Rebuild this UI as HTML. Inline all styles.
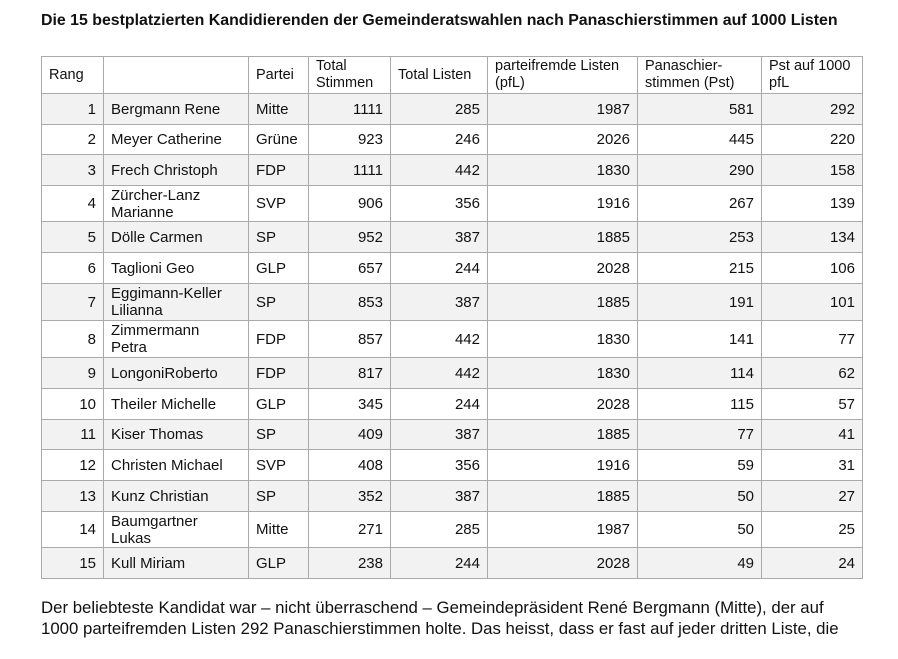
<!DOCTYPE html>
<html><head><meta charset="utf-8"><style>
body{margin:0;width:898px;height:659px;background:#fff;font-family:"Liberation Sans",Arial,sans-serif;color:#111;position:relative;overflow:hidden}
h1{position:absolute;left:41px;top:12px;margin:0;font-size:15.9px;font-weight:bold;white-space:nowrap}
table{position:absolute;left:41px;top:56px;border-collapse:collapse;table-layout:fixed;font-size:15px}
td{border:1px solid #aaa;padding:0 7px;line-height:17px;box-sizing:border-box;overflow:hidden;white-space:nowrap}
tr.o td{background:#f2f2f2}
td.r{text-align:right}
tr.h td{font-size:14.5px}
p{position:absolute;left:41px;top:597px;margin:0;font-size:16.8px;line-height:21px;width:860px;white-space:nowrap}
</style></head><body>
<h1>Die 15 bestplatzierten Kandidierenden der Gemeinderatswahlen nach Panaschierstimmen auf 1000 Listen</h1>
<table>
<colgroup><col style="width:62px"><col style="width:145px"><col style="width:60px"><col style="width:82px"><col style="width:97px"><col style="width:150px"><col style="width:124px"><col style="width:101px"></colgroup>
<tr class="h" style="height:37px"><td>Rang</td><td></td><td>Partei</td><td>Total<br>Stimmen</td><td>Total Listen</td><td>parteifremde Listen<br>(pfL)</td><td>Panaschier-<br>stimmen (Pst)</td><td>Pst auf 1000<br>pfL</td></tr>
<tr class="o" style="height:31px"><td class="r">1</td><td>Bergmann Rene</td><td>Mitte</td><td class="r">1111</td><td class="r">285</td><td class="r">1987</td><td class="r">581</td><td class="r">292</td></tr>
<tr style="height:30px"><td class="r">2</td><td>Meyer Catherine</td><td>Grüne</td><td class="r">923</td><td class="r">246</td><td class="r">2026</td><td class="r">445</td><td class="r">220</td></tr>
<tr class="o" style="height:31px"><td class="r">3</td><td>Frech Christoph</td><td>FDP</td><td class="r">1111</td><td class="r">442</td><td class="r">1830</td><td class="r">290</td><td class="r">158</td></tr>
<tr style="height:36px"><td class="r">4</td><td>Zürcher-Lanz<br>Marianne</td><td>SVP</td><td class="r">906</td><td class="r">356</td><td class="r">1916</td><td class="r">267</td><td class="r">139</td></tr>
<tr class="o" style="height:31px"><td class="r">5</td><td>Dölle Carmen</td><td>SP</td><td class="r">952</td><td class="r">387</td><td class="r">1885</td><td class="r">253</td><td class="r">134</td></tr>
<tr style="height:31px"><td class="r">6</td><td>Taglioni Geo</td><td>GLP</td><td class="r">657</td><td class="r">244</td><td class="r">2028</td><td class="r">215</td><td class="r">106</td></tr>
<tr class="o" style="height:37px"><td class="r">7</td><td>Eggimann-Keller<br>Lilianna</td><td>SP</td><td class="r">853</td><td class="r">387</td><td class="r">1885</td><td class="r">191</td><td class="r">101</td></tr>
<tr style="height:37px"><td class="r">8</td><td>Zimmermann<br>Petra</td><td>FDP</td><td class="r">857</td><td class="r">442</td><td class="r">1830</td><td class="r">141</td><td class="r">77</td></tr>
<tr class="o" style="height:31px"><td class="r">9</td><td>LongoniRoberto</td><td>FDP</td><td class="r">817</td><td class="r">442</td><td class="r">1830</td><td class="r">114</td><td class="r">62</td></tr>
<tr style="height:31px"><td class="r">10</td><td>Theiler Michelle</td><td>GLP</td><td class="r">345</td><td class="r">244</td><td class="r">2028</td><td class="r">115</td><td class="r">57</td></tr>
<tr class="o" style="height:30px"><td class="r">11</td><td>Kiser Thomas</td><td>SP</td><td class="r">409</td><td class="r">387</td><td class="r">1885</td><td class="r">77</td><td class="r">41</td></tr>
<tr style="height:31px"><td class="r">12</td><td>Christen Michael</td><td>SVP</td><td class="r">408</td><td class="r">356</td><td class="r">1916</td><td class="r">59</td><td class="r">31</td></tr>
<tr class="o" style="height:31px"><td class="r">13</td><td>Kunz Christian</td><td>SP</td><td class="r">352</td><td class="r">387</td><td class="r">1885</td><td class="r">50</td><td class="r">27</td></tr>
<tr style="height:36px"><td class="r">14</td><td>Baumgartner<br>Lukas</td><td>Mitte</td><td class="r">271</td><td class="r">285</td><td class="r">1987</td><td class="r">50</td><td class="r">25</td></tr>
<tr class="o" style="height:31px"><td class="r">15</td><td>Kull Miriam</td><td>GLP</td><td class="r">238</td><td class="r">244</td><td class="r">2028</td><td class="r">49</td><td class="r">24</td></tr>
</table>
<p>Der beliebteste Kandidat war – nicht überraschend – Gemeindepräsident René Bergmann (Mitte), der auf<br>1000 parteifremden Listen 292 Panaschierstimmen holte. Das heisst, dass er fast auf jeder dritten Liste, die</p>
</body></html>
